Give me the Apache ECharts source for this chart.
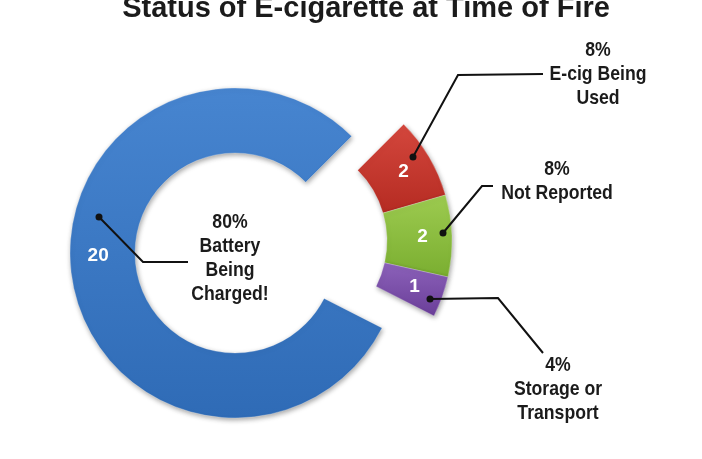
<!DOCTYPE html>
<html>
<head>
<meta charset="utf-8">
<script src="https://cdn.jsdelivr.net/npm/echarts@6/dist/echarts.min.js"></script>
<style>html,body{margin:0;padding:0;background:#fff}#c{width:702px;height:459px}</style>
</head>
<body>
<div id="c"></div>
<script>
var titleText = 'Status of E-cigarette at Time of Fire';
var categories = ['Battery Being Charged!', 'E-cig Being Used', 'Not Reported', 'Storage or Transport'];
var calloutLines = [['Battery', 'Being', 'Charged!'], ['E-cig Being', 'Used'], ['Not Reported'], ['Storage or', 'Transport']];
var values = [20, 2, 2, 1];
var colorsTop = ['#4785D0', '#D4473D', '#9DCB50', '#8C62BA'];
var colorsBottom = ['#2F6BB6', '#B52B22', '#7AAE30', '#6A3E98'];

var FONT = "'Liberation Sans', Arial, sans-serif";
var total = values.reduce(function (a, b) { return a + b; }, 0);
function pct(v) { return Math.round(v / total * 100) + '%'; }

function grad(i) {
  return new echarts.graphic.LinearGradient(0, 0, 0, 1, [
    { offset: 0, color: colorsTop[i] },
    { offset: 1, color: colorsBottom[i] }
  ]);
}

function makeData(showMain) {
  return categories.map(function (name, i) {
    var visible = showMain ? i === 0 : i !== 0;
    return {
      name: name,
      value: values[i],
      itemStyle: visible ? {
        color: grad(i),
        shadowBlur: 5, shadowColor: 'rgba(0,0,0,0.35)', shadowOffsetX: 1, shadowOffsetY: 2,
        borderColor: 'rgba(255,255,255,0.25)', borderWidth: 1
      } : { color: 'rgba(0,0,0,0)', borderWidth: 0 },
      label: { show: visible }
    };
  });
}

var baseSeries = {
  type: 'pie',
  radius: [100, 165],
  startAngle: 333,
  clockwise: true,
  silent: true,
  avoidLabelOverlap: false,
  labelLine: { show: false },
  label: {
    position: 'inside',
    formatter: '{c}',
    color: '#fff',
    fontFamily: FONT,
    fontWeight: 'bold',
    fontSize: 19
  }
};

// callout annotations (leader lines, dots, text)
var callouts = [
  { pts: [[99, 217], [143, 262], [188, 262]], x: 230, y: 258, idx: 0 },
  { pts: [[413, 157], [458, 75], [543, 74]], x: 598, y: 74, idx: 1 },
  { pts: [[443, 233], [482, 186], [493, 186]], x: 557, y: 181, idx: 2 },
  { pts: [[430, 299], [498, 298], [543, 353]], x: 558, y: 389, idx: 3 }
];
var graphics = [];
graphics.push({
  type: 'text', z: 100, x: 366, y: 9,
  style: { text: titleText, fill: '#1b1b1b', font: 'bold 29px ' + FONT, align: 'center', verticalAlign: 'middle' }
});
callouts.forEach(function (c) {
  graphics.push({ type: 'polyline', z: 100, shape: { points: c.pts }, style: { stroke: '#111', lineWidth: 2, fill: null } });
  graphics.push({ type: 'circle', z: 101, shape: { cx: c.pts[0][0], cy: c.pts[0][1], r: 3.5 }, style: { fill: '#111' } });
  graphics.push({
    type: 'text', z: 100, x: c.x, y: c.y, scaleX: 0.84,
    style: {
      text: [pct(values[c.idx])].concat(calloutLines[c.idx]).join('\n'),
      fill: '#1b1b1b', font: 'bold 21px ' + FONT, lineHeight: 24,
      align: 'center', verticalAlign: 'middle'
    }
  });
});

var chart = echarts.init(document.getElementById('c'), null, { renderer: 'canvas' });
chart.setOption({
  backgroundColor: '#fff',
  animation: false,
  series: [
    Object.assign({}, baseSeries, {
      center: [235, 253], data: makeData(true),
      labelLayout: function (p) {
        if (p.dataIndex === 0) { return { dy: -18, dx: -3 }; }
        return {};
      }
    }),
    Object.assign({}, baseSeries, { center: [287, 241], data: makeData(false) })
  ],
  graphic: graphics
});
</script>
</body>
</html>
